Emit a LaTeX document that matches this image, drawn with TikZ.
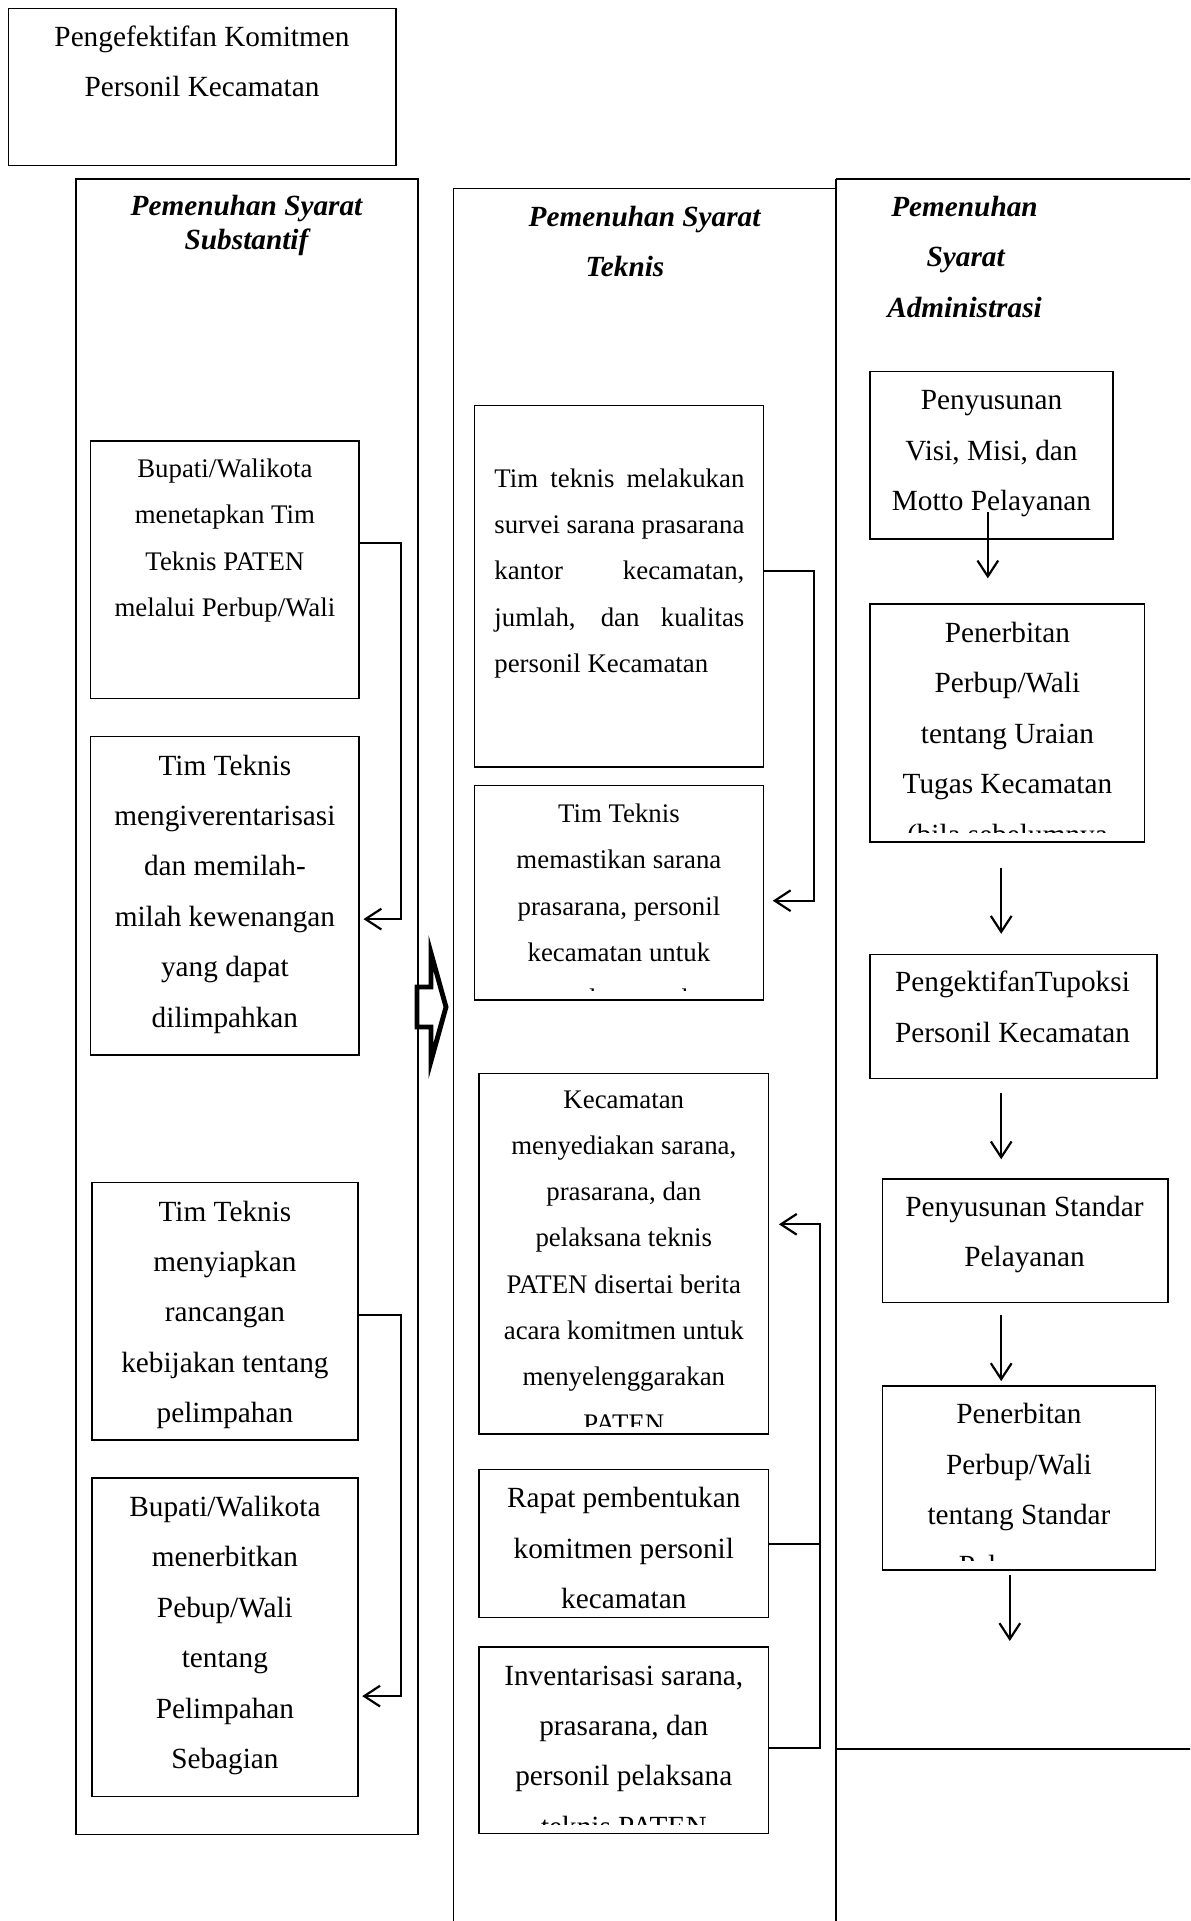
\documentclass[tikz,border=0pt]{standalone}
\usepackage{fontspec}
\setmainfont{Liberation Serif}
\usetikzlibrary{fit,arrows.meta}
\newcommand\bigf{\fontsize{12}{20.7}\selectfont}
\newcommand\smf{\fontsize{11}{18.98}\selectfont}
\newcommand\hdf{\fontsize{12}{13.8}\selectfont\bfseries\itshape}
\newcommand\boxtext[5]{\begin{scope}\clip ([yshift=4.1pt]#1.south west) rectangle (#1.north east);\node[txt] at (#2,#3) {\parbox[t]{200pt}{\centering#4 #5}};\end{scope}}
\tikzset{
  box/.style={draw, line width=0.6pt, inner sep=0pt},
  txt/.style={anchor=base, inner sep=0pt},
  arr/.style={line width=0.9pt, -{Straight Barb[length=6.5pt,width=8.5pt]}},
  ln/.style={line width=0.9pt},
  col/.style={line width=0.6pt},
}
\begin{document}
\begin{tikzpicture}[x=0.41pt,y=-0.41pt]
\clip (0,0) rectangle (1190,1921);
\fill[white] (0,0) rectangle (1190,1921);

% top box
\node[box, fit={(8.6,8.6)(395.8,165.4)}] (top) {};
\boxtext{top}{202}{46.5}{\bigf}{Pengefektifan Komitmen\\Personil Kecamatan}

% left column
\node[box, fit={(76,178.9)(417.9,1834.6)}] (colL) {};
\node[txt] (hL) at (246.5,215.5) {\parbox[t]{200pt}{\centering\hdf Pemenuhan Syarat\\Substantif}};

\node[box, fit={(90.7,441.2)(359.1,698.5)}] (b1) {};
\boxtext{b1}{224.9}{477.6}{\smf}{Bupati/Walikota\\menetapkan Tim\\Teknis PATEN\\melalui Perbup/Wali}
\node[box, fit={(90.7,736.5)(359.1,1055.2)}] (b2) {};
\boxtext{b2}{224.9}{775}{\bigf}{Tim Teknis\\mengiverentarisasi\\dan memilah-\\milah kewenangan\\yang dapat\\dilimpahkan}
\node[box, fit={(91.9,1182.6)(357.8,1440)}] (b3) {};
\boxtext{b3}{224.9}{1221}{\bigf}{Tim Teknis\\menyiapkan\\rancangan\\kebijakan tentang\\pelimpahan}
\node[box, fit={(91.9,1478)(357.8,1796.6)}] (b4) {};
\boxtext{b4}{224.9}{1516.3}{\bigf}{Bupati/Walikota\\menerbitkan\\Pebup/Wali\\tentang\\Pelimpahan\\Sebagian}

\draw[arr, shorten >=1.5pt] (b1.east |- 0,542.9) -- (400.7,542.9) |- (b2.east |- 0,919.1);
\draw[arr, shorten >=1.5pt] (b3.east |- 0,1315) -- (400.7,1315) |- (b4.east |- 0,1696.1);

% big arrow between columns
\draw[line width=2pt, miter limit=10] (417,987) -- (431,987) -- (431,953) -- (446,1007) -- (431,1061) -- (431,1027) -- (417,1027) -- cycle;

% middle column
\draw[col] (453.4,1940) -- (453.4,188.7) -- (835.8,188.7);
\draw[col] (835.8,178.9) -- (835.8,1940);
\node[txt] (hM1) at (644.6,226.5) {\hdf Pemenuhan Syarat};
\node[txt] (hM2) at (625,276.7) {\hdf Teknis};

\node[box, fit={(474.3,405.6)(763.5,767.2)}] (b5) {};
\begin{scope}
\clip ([yshift=4.1pt]b5.south west) rectangle (b5.north east);
\node[anchor=base west, inner sep=0pt] at (493.9,487.4) {\parbox[t]{102.5pt}{\smf\raggedright
  \makebox[102.5pt][s]{Tim teknis melakukan}\\
  \makebox[102.5pt][s]{survei sarana prasarana}\\
  \makebox[102.5pt][s]{kantor kecamatan,}\\
  \makebox[102.5pt][s]{jumlah, dan kualitas}\\
  personil Kecamatan}};
\end{scope}
\node[box, fit={(474.3,785.5)(763.5,1000)}] (b6) {};
\boxtext{b6}{618.9}{822.5}{\smf}{Tim Teknis\\memastikan sarana\\prasarana, personil\\kecamatan untuk\\menyelenggarakan}
\node[box, fit={(479.2,1073.5)(768.4,1433.8)}] (b7) {};
\begin{scope}
\clip ([yshift=3.3pt]b7.south west) rectangle (b7.north east);
\node[txt] at (623.8,1108) {\parbox[t]{200pt}{\centering\smf Kecamatan\\menyediakan sarana,\\prasarana, dan\\pelaksana teknis\\PATEN disertai berita\\acara komitmen untuk\\menyelenggarakan\\PATEN}};
\end{scope}
\node[box, fit={(479.2,1469.4)(768.4,1617.7)}] (b8) {};
\boxtext{b8}{623.8}{1507.6}{\bigf}{Rapat pembentukan\\komitmen personil\\kecamatan}
\node[box, fit={(479.2,1647.1)(768.4,1833.3)}] (b9) {};
\boxtext{b9}{623.8}{1685}{\bigf}{Inventarisasi sarana,\\prasarana, dan\\personil pelaksana\\teknis PATEN}

\draw[arr, shorten >=3.5pt] (b5.east |- 0,571.1) -- (813.7,571.1) |- (b6.east |- 0,900.7);
\draw[arr, shorten >=4pt] (b9.east |- 0,1747.6) -| (819.9,1224.3) -- (b7.east |- 0,1224.3);
\draw[ln] (b8.east |- 0,1544.1) -- (819.9,1544.1);

% right column
\draw[col] (835.8,178.9) -- (1200,178.9);
\draw[col] (835.8,1748.8) -- (1200,1748.8);
\node[txt] (hR1) at (964.5,216.7) {\hdf Pemenuhan};
\node[txt] (hR2) at (965.7,266.9) {\hdf Syarat};
\node[txt] (hR3) at (964.5,317.2) {\hdf Administrasi};

\node[box, fit={(870.1,371.3)(1112.8,539.2)}] (b10) {};
\boxtext{b10}{991.5}{409.6}{\bigf}{Penyusunan\\Visi, Misi, dan\\Motto Pelayanan}
\node[box, fit={(870.1,604.2)(1144.6,841.9)}] (b11) {};
\boxtext{b11}{1007.4}{642.5}{\bigf}{Penerbitan\\Perbup/Wali\\tentang Uraian\\Tugas Kecamatan\\(bila sebelumnya}
\node[box, fit={(870.1,954.7)(1156.9,1078.4)}] (b12) {};
\boxtext{b12}{1012.5}{991.7}{\bigf}{PengektifanTupoksi\\Personil Kecamatan}
\node[box, fit={(882.4,1178.9)(1167.9,1302.7)}] (b13) {};
\boxtext{b13}{1024.5}{1216}{\bigf}{Penyusunan Standar\\Pelayanan}
\node[box, fit={(882.4,1386.1)(1155.6,1569.9)}] (b14) {};
\boxtext{b14}{1019}{1423.6}{\bigf}{Penerbitan\\Perbup/Wali\\tentang Standar\\Pelayanan}

\coordinate (r0s) at (987.8,512.3);  \coordinate (r0e) at (987.8,578.4);
\coordinate (r1s) at (1001.2,867.7); \coordinate (r1e) at (1001.2,933.8);
\coordinate (r2s) at (1001.2,1093.1);\coordinate (r2e) at (1001.2,1159.3);
\coordinate (r3s) at (1001.2,1315);  \coordinate (r3e) at (1001.2,1381.1);
\coordinate (r4s) at (1009.8,1574.8);\coordinate (r4e) at (1009.8,1641);
\draw[arr] (r0s) -- (r0e);
\draw[arr] (r1s) -- (r1e);
\draw[arr] (r2s) -- (r2e);
\draw[arr] (r3s) -- (r3e);
\draw[arr] (r4s) -- (r4e);
\end{tikzpicture}
\end{document}
